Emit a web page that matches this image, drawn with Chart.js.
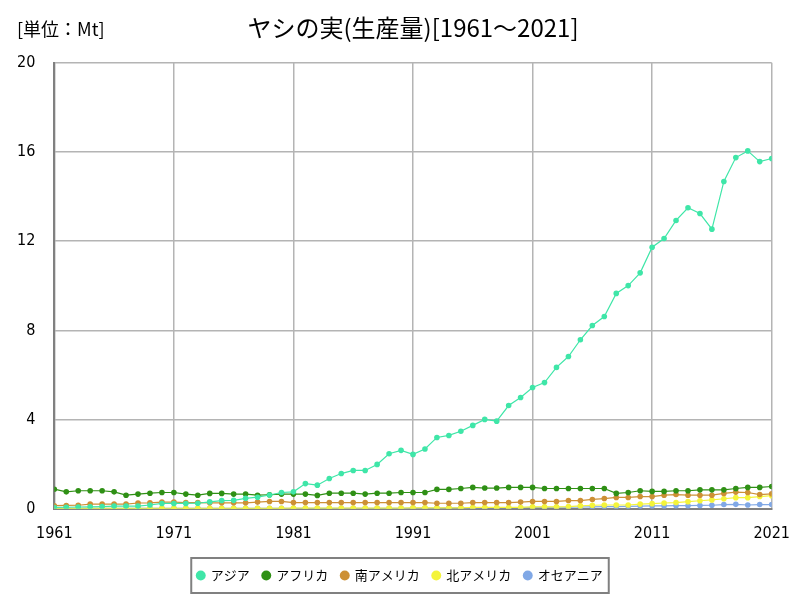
<!DOCTYPE html>
<html><head><meta charset="utf-8">
<script src="https://cdn.jsdelivr.net/npm/chart.js@4"></script>
<style>html,body{margin:0;padding:0;background:#fff}#wrap{width:800px;height:600px}</style>
</head><body><div id="wrap"><canvas id="c" width="800" height="600"></canvas></div>
<script>
const years = [1961,1962,1963,1964,1965,1966,1967,1968,1969,1970,1971,1972,1973,1974,1975,1976,1977,1978,1979,1980,1981,1982,1983,1984,1985,1986,1987,1988,1989,1990,1991,1992,1993,1994,1995,1996,1997,1998,1999,2000,2001,2002,2003,2004,2005,2006,2007,2008,2009,2010,2011,2012,2013,2014,2015,2016,2017,2018,2019,2020,2021];
const asia = [0.06,0.07,0.08,0.09,0.10,0.12,0.12,0.12,0.17,0.24,0.24,0.24,0.25,0.31,0.37,0.38,0.47,0.52,0.62,0.73,0.76,1.13,1.06,1.36,1.58,1.72,1.72,1.99,2.47,2.62,2.44,2.68,3.20,3.29,3.48,3.74,4.01,3.93,4.63,4.99,5.44,5.66,6.34,6.83,7.58,8.22,8.62,9.66,10.01,10.58,11.73,12.12,12.93,13.50,13.24,12.54,14.68,15.75,16.05,15.57,15.71];
const africa = [0.88,0.76,0.81,0.81,0.81,0.76,0.61,0.66,0.70,0.73,0.73,0.66,0.61,0.69,0.69,0.66,0.66,0.61,0.63,0.66,0.66,0.66,0.60,0.70,0.70,0.70,0.66,0.70,0.70,0.73,0.73,0.73,0.87,0.87,0.91,0.96,0.93,0.93,0.96,0.96,0.96,0.91,0.91,0.91,0.91,0.91,0.91,0.69,0.73,0.81,0.78,0.78,0.81,0.81,0.85,0.85,0.85,0.91,0.96,0.96,1.00];
const southAmerica = [0.14,0.15,0.16,0.21,0.21,0.21,0.21,0.26,0.27,0.30,0.30,0.28,0.28,0.27,0.27,0.27,0.27,0.30,0.33,0.33,0.28,0.28,0.28,0.28,0.28,0.28,0.28,0.28,0.28,0.28,0.28,0.28,0.25,0.25,0.25,0.28,0.28,0.28,0.28,0.30,0.33,0.33,0.33,0.37,0.37,0.42,0.46,0.51,0.51,0.55,0.55,0.61,0.64,0.61,0.61,0.61,0.69,0.75,0.73,0.64,0.67];
const northAmerica = [0.02,0.02,0.02,0.02,0.02,0.02,0.02,0.02,0.02,0.02,0.02,0.02,0.02,0.02,0.02,0.02,0.02,0.02,0.02,0.02,0.03,0.03,0.03,0.03,0.03,0.03,0.03,0.03,0.03,0.03,0.04,0.04,0.04,0.04,0.04,0.06,0.06,0.06,0.06,0.06,0.09,0.09,0.09,0.10,0.13,0.16,0.17,0.17,0.17,0.21,0.23,0.26,0.28,0.32,0.36,0.40,0.45,0.50,0.50,0.55,0.59];
const oceania = [0.02,0.02,0.02,0.02,0.02,0.02,0.02,0.02,0.02,0.02,0.02,0.02,0.02,0.02,0.02,0.02,0.02,0.02,0.02,0.02,0.02,0.02,0.02,0.02,0.02,0.02,0.02,0.02,0.02,0.02,0.03,0.03,0.03,0.04,0.04,0.04,0.05,0.05,0.05,0.05,0.06,0.06,0.07,0.07,0.08,0.09,0.10,0.10,0.11,0.12,0.13,0.13,0.14,0.14,0.15,0.16,0.19,0.20,0.17,0.19,0.19];
const seriesNames = ['アジア','アフリカ','南アメリカ','北アメリカ','オセアニア'];
const seriesColors = ['#3fe6a8','#2f9015','#cd9035','#f4f43a','#80a8e6'];
const seriesValues = [asia, africa, southAmerica, northAmerica, oceania];
const yTicks = [0,4,8,12,16,20];
const titleText = 'ヤシの実(生産量)[1961～2021]';
const unitText = '[単位：Mt]';

const FONT = '"Noto Sans CJK JP", "Noto Sans", sans-serif';
const NUMFONT = '"Liberation Sans Narrow", "DejaVu Sans Condensed", "Noto Sans CJK JP", sans-serif';

const datasets = seriesValues.map((vals, i) => ({
  label: seriesNames[i],
  data: vals.map((v, j) => ({x: years[j], y: v})),
  borderColor: seriesColors[i],
  backgroundColor: seriesColors[i],
  borderWidth: 1.2,
  pointRadius: 2.8,
  pointHoverRadius: 2.8,
  pointBorderWidth: 0,
  tension: 0,
  fill: false
}));

const extras = {
  id: 'extras',
  afterLayout(chart) {
    const ca = chart.chartArea;
    const tb = chart.titleBlock;
    if (tb) {
      const d = (ca.left + ca.right) / 2 - (tb.left + tb.right) / 2;
      tb.left += d; tb.right += d;
    }
    const lg = chart.legend;
    if (lg) {
      const d = chart.width / 2 - (lg.left + lg.right) / 2;
      lg.left += d; lg.right += d;
    }
  },
  afterDraw(chart) {
    const ctx = chart.ctx;
    ctx.save();
    ctx.fillStyle = '#000';
    ctx.font = '18px ' + FONT;
    ctx.textBaseline = 'middle';
    ctx.textAlign = 'left';
    ctx.fillText(unitText, 17, 29);
    const lg = chart.legend;
    if (lg && lg.legendHitBoxes && lg.legendHitBoxes.length) {
      const hb = lg.legendHitBoxes;
      let l = Infinity, r = -Infinity, t = Infinity, b = -Infinity;
      hb.forEach(h => { l = Math.min(l, h.left); r = Math.max(r, h.left + h.width); t = Math.min(t, h.top); b = Math.max(b, h.top + h.height); });
      ctx.strokeStyle = '#808080';
      ctx.lineWidth = 2;
      ctx.strokeRect(l - 6, t - 11, (r - l) + 12, (b - t) + 22);
    }
    ctx.restore();
  }
};

new Chart(document.getElementById('c'), {
  type: 'line',
  data: { datasets },
  options: {
    responsive: false,
    animation: false,
    layout: { padding: { left: -2, right: 22, top: 0, bottom: 8 } },
    plugins: {
      title: { display: true, text: titleText, color: '#000', font: { family: FONT, size: 24, weight: 'normal' }, padding: { top: 13, bottom: 21 } },
      legend: {
        position: 'bottom',
        labels: { usePointStyle: true, pointStyle: 'circle', boxWidth: 7, boxHeight: 7, padding: 13, color: '#000', font: { family: FONT, size: 13 } }
      },
      tooltip: { enabled: false }
    },
    scales: {
      x: {
        type: 'linear', min: 1961, max: 2021,
        ticks: { stepSize: 10, color: '#000', font: { family: NUMFONT, size: 16 }, callback: v => String(v), maxRotation: 0, padding: 15 },
        grid: { color: '#b4b4b4', lineWidth: 1.5, drawTicks: false },
        border: { color: '#808080', width: 2 },
        afterFit: s => { s.height -= 2; s.paddingRight = Math.max(0, s.paddingRight - 5); }
      },
      y: {
        min: 0, max: 20,
        afterBuildTicks: axis => { axis.ticks = yTicks.map(v => ({value: v})); },
        ticks: { color: '#000', font: { family: NUMFONT, size: 16 }, padding: 19 },
        grid: { color: '#b4b4b4', lineWidth: 1.5, drawTicks: false },
        border: { color: '#808080', width: 2 }
      }
    }
  },
  plugins: [extras]
});
</script></body></html>
